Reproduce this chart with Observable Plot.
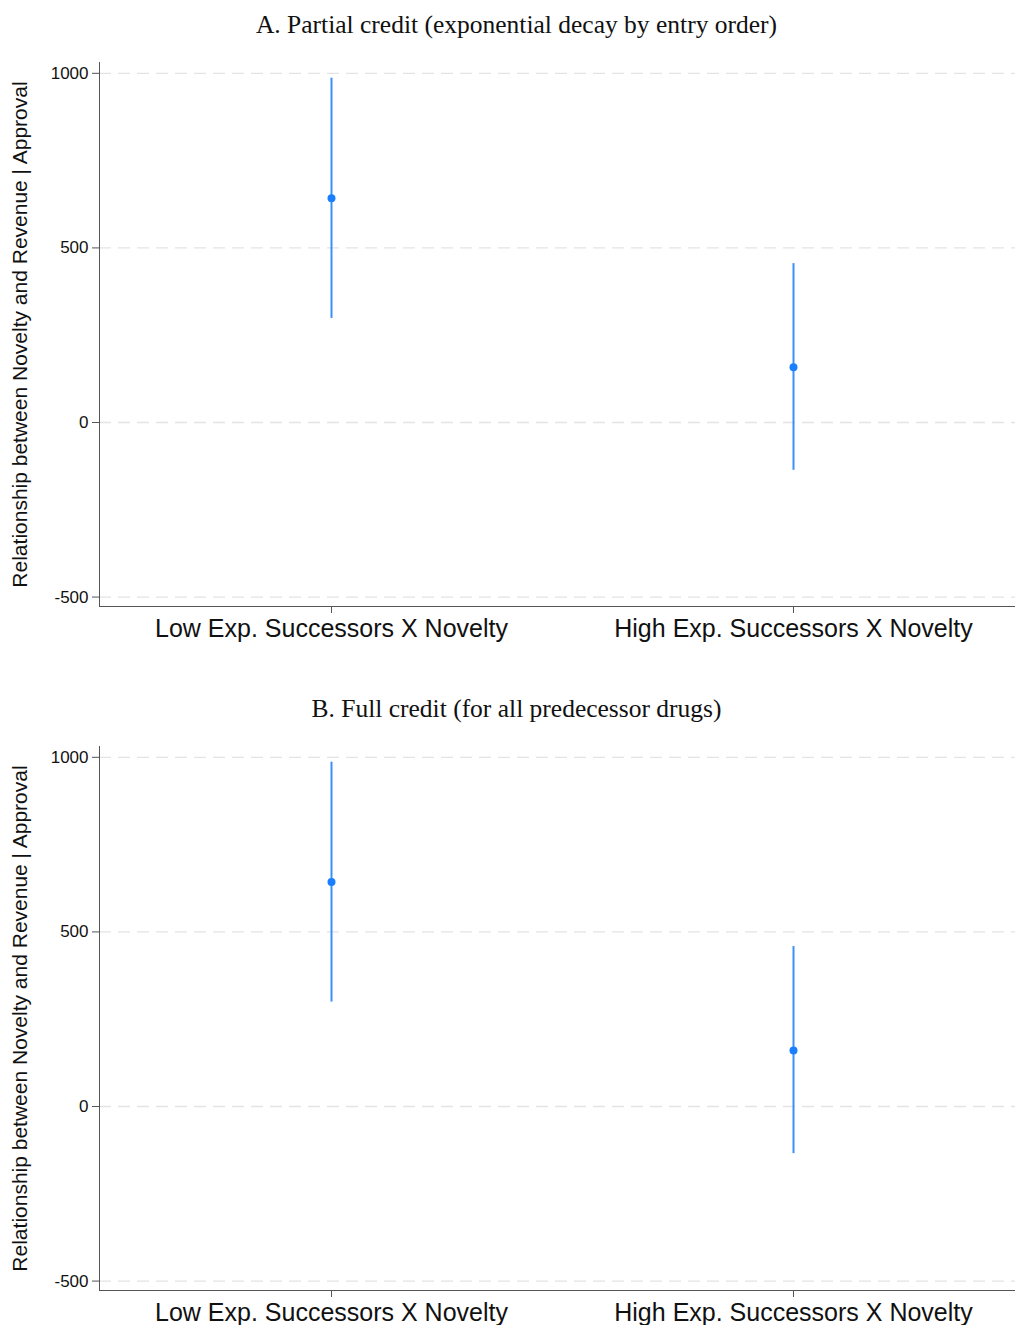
<!DOCTYPE html>
<html><head><meta charset="utf-8">
<script src="https://cdn.jsdelivr.net/npm/d3@7"></script>
<script src="https://cdn.jsdelivr.net/npm/@observablehq/plot@0.6"></script>
<style>
body{margin:0;background:#fff;overflow:hidden;width:1015px}
.panel{position:relative;width:1015px;height:684px}
.title{height:50px;line-height:50px;text-align:center;font-family:"Liberation Serif","DejaVu Serif",serif;font-size:25.5px;color:#111;padding-left:18px;box-sizing:border-box}
svg{display:block}
</style></head><body><div id="chart"></div>
<script>
const categories = ["Low Exp. Successors X Novelty", "High Exp. Successors X Novelty"];
const panelTitles = ["A. Partial credit (exponential decay by entry order)", "B. Full credit (for all predecessor drugs)"];
const estimateA = [642, 158];
const lowerA = [298, -137];
const upperA = [986, 455];
const estimateB = [643, 160];
const lowerB = [299, -135];
const upperB = [986, 458];
const yTicks = [-500, 0, 500, 1000];
const yLabel = "Relationship between Novelty and Revenue | Approval";

function panel(est, lo, hi) {
  const data = categories.map((c, i) => ({c, est: est[i], lo: lo[i], hi: hi[i]}));
  return Plot.plot({
    width: 1015, height: 634,
    marginLeft: 99, marginRight: 0, marginTop: 12, marginBottom: 78,
    x: {type: "point", domain: categories, padding: 0.5, insetRight: -9},
    y: {domain: [-527, 1031]},
    style: {fontFamily: "'Liberation Sans', Arial, sans-serif", color: "#111", background: "#fff"},
    marks: [
      Plot.ruleY(yTicks, {stroke: "#e4e4e4", strokeWidth: 1.3, strokeDasharray: "12,7"}),
      Plot.frame({anchor: "left", stroke: "#555"}),
      Plot.frame({anchor: "bottom", stroke: "#555"}),
      Plot.axisY({ticks: yTicks, tickSize: 7, tickPadding: 4, fontSize: 17, label: null, stroke: "#555", tickFormat: d => String(d)}),
      Plot.axisY({ticks: [], tickSize: 0, fontSize: 21, label: yLabel, labelAnchor: "center", labelArrow: "none", labelOffset: 87}),
      Plot.axisX({tickSize: 7, tickPadding: 6, fontSize: 25, label: null, stroke: "#555"}),
      Plot.ruleX(data, {x: "c", y1: "lo", y2: "hi", stroke: "#3a90fa", strokeWidth: 2}),
      Plot.dot(data, {x: "c", y: "est", r: 4, fill: "#1a7fff"})
    ]
  });
}

const root = document.getElementById("chart");
const sets = [[estimateA, lowerA, upperA], [estimateB, lowerB, upperB]];
sets.forEach((s, i) => {
  const p = document.createElement("div");
  p.className = "panel";
  const t = document.createElement("div");
  t.className = "title";
  t.textContent = panelTitles[i];
  p.appendChild(t);
  p.appendChild(panel(...s));
  root.appendChild(p);
});
</script></body></html>
